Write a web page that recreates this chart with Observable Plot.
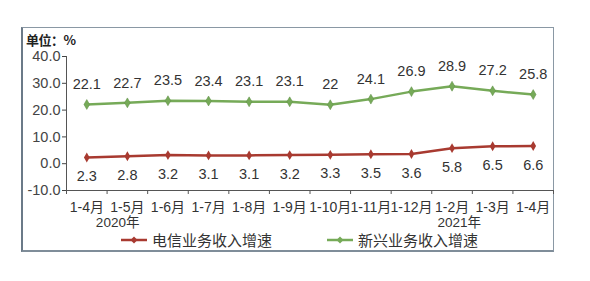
<!DOCTYPE html>
<html><head><meta charset="utf-8">
<script src="https://cdn.jsdelivr.net/npm/d3@7"></script>
<script src="https://cdn.jsdelivr.net/npm/@observablehq/plot@0.6"></script>
<style>
body{margin:0;width:590px;height:281px;background:#fff;position:relative;overflow:hidden;font-family:"Liberation Sans","Noto Sans CJK SC",sans-serif;}
#frame{position:absolute;left:21px;top:27px;width:533px;height:225px;border:1px solid #8a98a4;border-left:2px solid #6b7a88;border-bottom:2px solid #7f8d99;box-sizing:border-box;}
#chart{position:absolute;left:0;top:0;}
#unit{position:absolute;left:26px;top:30px;font:bold 13px "Noto Sans CJK SC",sans-serif;color:#222;letter-spacing:-0.5px;}
.leg{position:absolute;top:232px;font:15px/15px "Noto Sans CJK SC",sans-serif;color:#333;display:flex;align-items:center;gap:5px;}
</style></head>
<body>
<div id="frame"></div>
<div id="chart"></div>
<div id="unit">单位：%</div>
<div class="leg" id="leg1" style="left:121px"></div>
<div class="leg" id="leg2" style="left:327px"></div>
<script>
const months = ["1-4月","1-5月","1-6月","1-7月","1-8月","1-9月","1-10月","1-11月","1-12月","1-2月","1-3月","1-4月"];
const telecom = [2.3,2.8,3.2,3.1,3.1,3.2,3.3,3.5,3.6,5.8,6.5,6.6];
const emerging = [22.1,22.7,23.5,23.4,23.1,23.1,22,24.1,26.9,28.9,27.2,25.8];
const years = ["2020年","2021年"];
const yearAt = [1.26, 9.68];
const seriesNames = ["电信业务收入增速","新兴业务收入增速"];
const yTicks = [-10,0,10,20,30,40];
const colors = ["#a83a30","#76aa58"];

const tel = months.map((m,i)=>({i, x:i+0.5, v:telecom[i]}));
const emg = months.map((m,i)=>({i, x:i+0.5, v:emerging[i]}));
const cats = months.map((m,i)=>({x:i+0.5, m}));
const yrs = years.map((y,k)=>({x:yearAt[k], y}));

const font = `"Liberation Sans","Noto Sans CJK SC",sans-serif`;
const plot = Plot.plot({
  width:590, height:250,
  marginLeft:66, marginRight:37, marginTop:56, marginBottom:60,
  style:{fontFamily:font, fontSize:"13px", color:"#444", background:"transparent"},
  x:{domain:[0,12]},
  y:{domain:[-10,40]},
  marks:[
    Plot.axisY({ticks:yTicks, tickFormat:d=>d.toFixed(1), tickSize:4, tickPadding:2, fontSize:14.5, label:null, color:"#444"}),
    Plot.axisX({ticks:d3.range(0,13), tickFormat:()=>"", tickSize:4, label:null, color:"#555"}),
    Plot.ruleX([0],{y1:-10,y2:40,stroke:"#555"}),
    Plot.ruleY([-10],{stroke:"#555"}),
    Plot.text(cats,{x:"x", y:-10, text:"m", dy:17, fontSize:14, fill:"#333"}),
    Plot.text(yrs,{x:"x", y:-10, text:"y", dy:32.5, fontSize:13.5, fill:"#333"}),
    Plot.line(emg,{x:"x", y:"v", stroke:colors[1], strokeWidth:2.5}),
    Plot.dot(emg,{x:"x", y:"v", symbol:"diamond", r:3, fill:colors[1], stroke:"#5d8c45", strokeWidth:0.5}),
    Plot.line(tel,{x:"x", y:"v", stroke:colors[0], strokeWidth:2.5}),
    Plot.dot(tel,{x:"x", y:"v", symbol:"diamond", r:3, fill:colors[0]}),
    Plot.text(emg,{x:"x", y:"v", text:d=>String(d.v), dy:-20, fontSize:14.5, fill:"#333"}),
    Plot.text(tel,{x:"x", y:"v", text:d=>String(d.v), dy:19, fontSize:14.5, fill:"#333"})
  ]
});
document.getElementById("chart").appendChild(plot);

function legend(el, color, name){
  el.innerHTML = `<svg width="26" height="10"><line x1="0" y1="5" x2="26" y2="5" stroke="${color}" stroke-width="2.5"/><path d="M13,1.5L16.5,5L13,8.5L9.5,5Z" fill="${color}"/></svg><span>${name}</span>`;
}
legend(document.getElementById("leg1"), colors[0], seriesNames[0]);
legend(document.getElementById("leg2"), colors[1], seriesNames[1]);
</script>
</body></html>
